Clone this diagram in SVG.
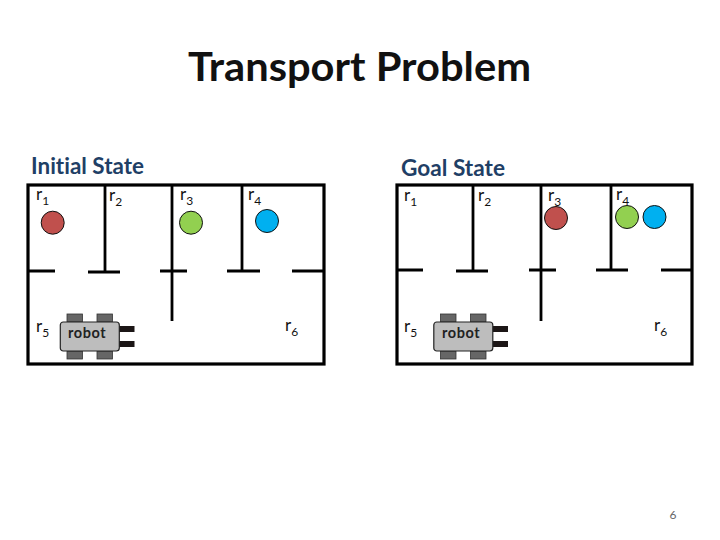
<svg xmlns="http://www.w3.org/2000/svg" width="720" height="540" viewBox="0 0 720 540">
<style>
text{font-family:Lato,"Liberation Sans",sans-serif;font-variant-ligatures:none}
.frame{fill:none;stroke:#000;stroke-width:3.200}
.wall{fill:none;stroke:#000;stroke-width:2.800}
.wallh{fill:none;stroke:#000;stroke-width:3}
.ball{stroke:#111;stroke-width:1}
.room{font-size:17px;fill:#111}
.sub{font-size:12px}
.head{font-size:22px;font-weight:700;fill:#1f3f66}
.wheel{fill:#666;stroke:#333;stroke-width:.8}
.fork{fill:#1c1616}
.body{fill:#bdbdbd;stroke:#222;stroke-width:1.200}
.rlabel{font-size:14.500px;font-weight:700;fill:#222;letter-spacing:.6px}
</style>
<defs>
<g id="robot-shape">
<rect class="wheel" x="7" y="0" width="15.500" height="8"/>
<rect class="wheel" x="37" y="0" width="15.500" height="8"/>
<rect class="wheel" x="7" y="37" width="15.500" height="8"/>
<rect class="wheel" x="37" y="37" width="15.500" height="8"/>
<rect class="fork" x="59" y="12" width="15.500" height="6"/>
<rect class="fork" x="59" y="27" width="15.500" height="6"/>
<rect class="body" x="0.300" y="8" width="59" height="29" rx="3"/>
</g>
</defs>
<text x="359.500" y="81" font-size="40" font-weight="700" fill="#111" text-anchor="middle" textLength="343" lengthAdjust="spacingAndGlyphs">Transport Problem</text>
<g id="initial-state">
<text class="head" x="31" y="174" textLength="113" lengthAdjust="spacingAndGlyphs">Initial State</text>
<rect class="frame" x="28" y="185" width="296" height="179"/>
<g id="initial-walls">
<path class="wall" d="M105 185V271M172 185V321M242 185V271"/>
<path class="wallh" d="M28 271H55M88 272H120M160 271H187M227 271H260M292 271H324"/>
</g>
<g id="initial-rooms" class="room">
<text x="36" y="200">r<tspan class="sub" dy="5">1</tspan></text>
<text x="109" y="201">r<tspan class="sub" dy="5">2</tspan></text>
<text x="180" y="200">r<tspan class="sub" dy="5">3</tspan></text>
<text x="248" y="200">r<tspan class="sub" dy="5">4</tspan></text>
<text x="36" y="332">r<tspan class="sub" dy="5">5</tspan></text>
<text x="285" y="331">r<tspan class="sub" dy="5">6</tspan></text>
</g>
<circle id="initial-red" class="ball" cx="52.700" cy="222.700" r="11.500" fill="#c0504d"/>
<circle id="initial-green" class="ball" cx="191" cy="222.700" r="11.500" fill="#92d050"/>
<circle id="initial-blue" class="ball" cx="267" cy="221" r="11.500" fill="#00b0f0"/>
<g id="initial-robot" transform="translate(60,314)">
<use href="#robot-shape"/>
<text class="rlabel" x="8" y="24">robot</text>
</g>
</g>
<g id="goal-state">
<text class="head" x="401" y="176" textLength="104" lengthAdjust="spacingAndGlyphs">Goal State</text>
<rect class="frame" x="397" y="185" width="295" height="179"/>
<g id="goal-walls">
<path class="wall" d="M473 185V271M541 185V321M611 185V270"/>
<path class="wallh" d="M397 270H423M456 271H488M529 270H556M596 270H628M661 270H692"/>
</g>
<g id="goal-rooms" class="room">
<text x="404" y="201">r<tspan class="sub" dy="5">1</tspan></text>
<text x="478" y="201">r<tspan class="sub" dy="5">2</tspan></text>
<text x="548" y="201">r<tspan class="sub" dy="5">3</tspan></text>
<text x="616" y="200">r<tspan class="sub" dy="5">4</tspan></text>
<text x="404" y="332">r<tspan class="sub" dy="5">5</tspan></text>
<text x="654" y="331">r<tspan class="sub" dy="5">6</tspan></text>
</g>
<circle id="goal-red" class="ball" cx="556" cy="218" r="11.500" fill="#c0504d"/>
<circle id="goal-green" class="ball" cx="627" cy="217" r="11.500" fill="#92d050"/>
<circle id="goal-blue" class="ball" cx="654.500" cy="217" r="11.500" fill="#00b0f0"/>
<g id="goal-robot" transform="translate(433.500,314)">
<use href="#robot-shape"/>
<text class="rlabel" x="8.500" y="24">robot</text>
</g>
</g>
<text x="673" y="519" font-size="12" fill="#666" text-anchor="middle">6</text>
</svg>
